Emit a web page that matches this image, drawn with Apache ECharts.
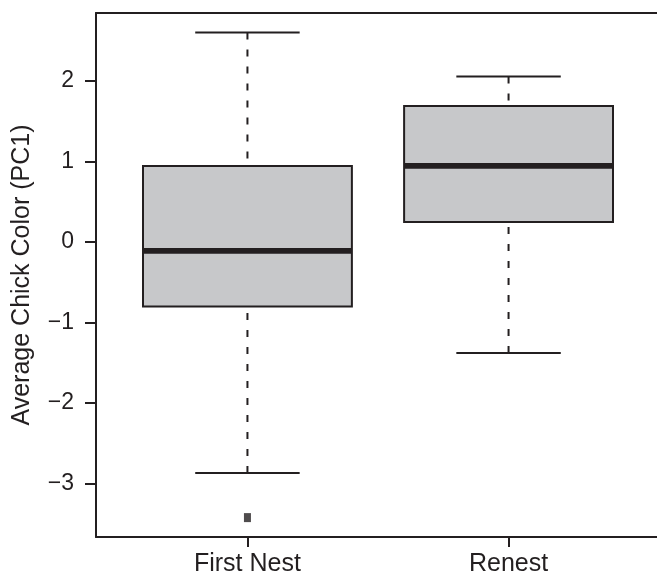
<!DOCTYPE html>
<html>
<head>
<meta charset="utf-8">
<script src="https://cdn.jsdelivr.net/npm/echarts@6/dist/echarts.min.js"></script>
<style>
  html, body { margin: 0; padding: 0; background: #ffffff; overflow: hidden; }
  #chart { width: 657px; height: 574px; }
</style>
</head>
<body>
<div id="chart"></div>
<script>
// ---- data ----
const categories   = ['First Nest', 'Renest'];
const whiskerLow   = [-2.87, -1.38];
const quartile1    = [-0.80, 0.25];
const medians      = [-0.11, 0.945];
const quartile3    = [0.945, 1.69];
const whiskerHigh  = [2.605, 2.058];
const outlierGroup = [0];          // index into categories
const outlierValue = [-3.425];
const yTicks       = [-3, -2, -1, 0, 1, 2];
const yTitle       = 'Average Chick Color (PC1)';

const INK = '#231f20';
const FONT = '"Liberation Sans", Arial, Helvetica, sans-serif';

const boxData = categories.map((c, i) => [i + 1, whiskerLow[i], quartile1[i], medians[i], quartile3[i], whiskerHigh[i]]);
const outlierData = outlierGroup.map((g, i) => [g + 1, outlierValue[i]]);

function renderBox(params, api) {
  const x = api.value(0);
  const lo = api.coord([x, api.value(1)]);
  const q1 = api.coord([x, api.value(2)]);
  const md = api.coord([x, api.value(3)]);
  const q3 = api.coord([x, api.value(4)]);
  const hi = api.coord([x, api.value(5)]);
  const boxW = api.size([0.8, 0])[0];
  const capW = api.size([0.4, 0])[0];
  const cx = lo[0];
  const dash = { stroke: INK, lineWidth: 2, lineDash: [7, 10], fill: null };
  const solid = { stroke: INK, lineWidth: 2, fill: null };
  return {
    type: 'group',
    children: [
      { type: 'line', shape: { x1: cx, y1: hi[1], x2: cx, y2: q3[1] }, style: dash },
      { type: 'line', shape: { x1: cx, y1: lo[1], x2: cx, y2: q1[1] }, style: dash },
      { type: 'line', shape: { x1: cx - capW / 2, y1: hi[1], x2: cx + capW / 2, y2: hi[1] }, style: solid },
      { type: 'line', shape: { x1: cx - capW / 2, y1: lo[1], x2: cx + capW / 2, y2: lo[1] }, style: solid },
      { type: 'rect', shape: { x: cx - boxW / 2, y: q3[1], width: boxW, height: q1[1] - q3[1] },
        style: { fill: '#c7c8ca', stroke: INK, lineWidth: 2 } },
      { type: 'line', shape: { x1: cx - boxW / 2, y1: md[1], x2: cx + boxW / 2, y2: md[1] },
        style: { stroke: INK, lineWidth: 5.8 } }
    ]
  };
}

const chart = echarts.init(document.getElementById('chart'), null, { renderer: 'canvas' });
chart.setOption({
  animation: false,
  backgroundColor: '#ffffff',
  grid: { left: 96, top: 13, width: 564, height: 524, outerBoundsMode: 'none', containLabel: false },
  xAxis: [
    {
      type: 'value', min: 0.42, max: 2.58, position: 'bottom',
      axisLine: { show: true, onZero: false, lineStyle: { color: INK, width: 2 } },
      splitLine: { show: false },
      axisTick: { show: true, length: 10, lineStyle: { color: INK, width: 2 }, customValues: [1, 2] },
      axisLabel: {
        customValues: [1, 2], margin: 15,
        formatter: v => categories[Math.round(v) - 1] || '',
        color: INK, fontSize: 25, fontFamily: FONT
      }
    },
    {
      type: 'value', min: 0.42, max: 2.58, position: 'top',
      axisLine: { show: true, onZero: false, lineStyle: { color: INK, width: 2 } },
      splitLine: { show: false }, axisTick: { show: false }, axisLabel: { show: false }
    }
  ],
  yAxis: {
    type: 'value', min: -3.666, max: 2.846,
    name: yTitle, nameLocation: 'middle', nameGap: 61,
    nameTextStyle: { color: INK, fontSize: 25, fontFamily: FONT },
    axisLine: { show: true, onZero: false, lineStyle: { color: INK, width: 2 } },
    splitLine: { show: false },
    axisTick: { show: true, length: 11, lineStyle: { color: INK, width: 2 }, customValues: yTicks },
    axisLabel: {
      customValues: yTicks, margin: 22,
      formatter: v => String(Math.round(v)).replace('-', '\u2212'),
      color: INK, fontSize: 23, fontFamily: FONT
    }
  },
  series: [
    {
      type: 'custom',
      renderItem: renderBox,
      encode: { x: 0, y: [1, 2, 3, 4, 5] },
      data: boxData,
      z: 3
    },
    {
      type: 'scatter',
      symbol: 'rect',
      symbolSize: [7, 9],
      itemStyle: { color: INK },
      data: outlierData,
      z: 4
    }
  ]
});
</script>
</body>
</html>
